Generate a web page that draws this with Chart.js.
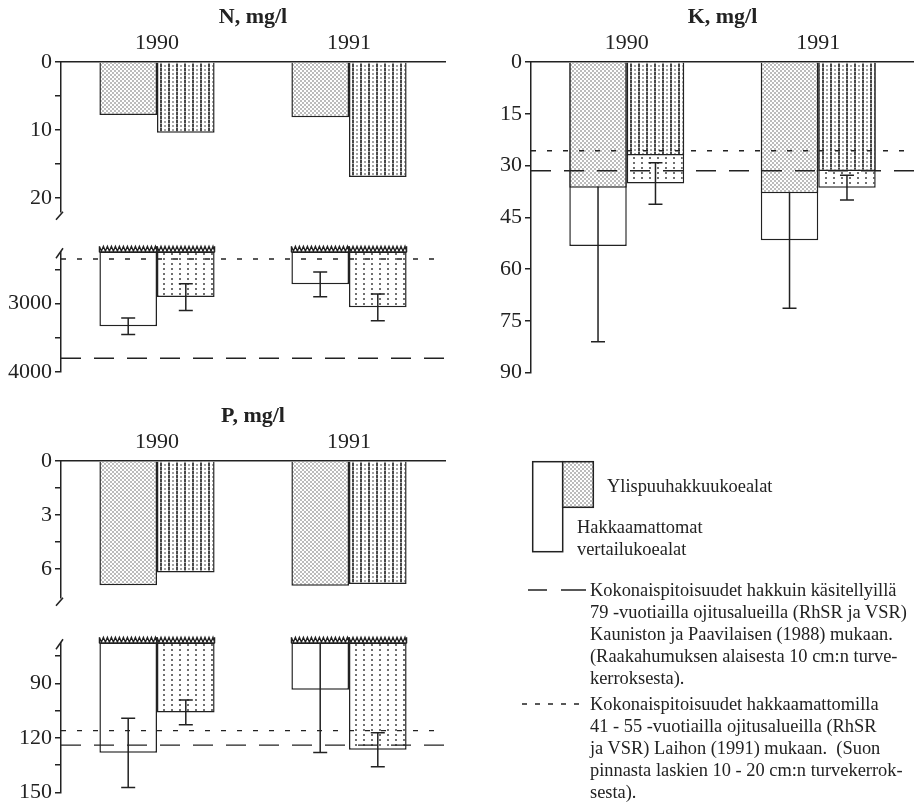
<!DOCTYPE html>
<html>
<head>
<meta charset="utf-8">
<script src="https://cdn.jsdelivr.net/npm/chart.js@4.4.1/dist/chart.umd.min.js"></script>
<style>
  html, body { margin: 0; padding: 0; background: #fff; }
  body { width: 914px; height: 810px; position: relative; overflow: hidden;
         font-family: "Liberation Serif", "Times New Roman", serif; color: #222; }
  canvas { position: absolute; }
  .t { position: absolute; font-size: 18.4px; line-height: 22px; white-space: nowrap; color: #222; }
</style>
</head>
<body>
<canvas id="nTop" width="460" height="228" style="left:0;top:0"></canvas>
<canvas id="nLow" width="460" height="160" style="left:0;top:236px"></canvas>
<canvas id="kAll" width="444" height="390" style="left:470px;top:0"></canvas>
<canvas id="pTop" width="460" height="215" style="left:0;top:399px"></canvas>
<canvas id="pLow" width="460" height="183" style="left:0;top:627px"></canvas>
<canvas id="key" width="394" height="360" style="left:520px;top:450px"></canvas>

<div class="t" style="left:607px;top:475px">Ylispuuhakkuukoealat</div>
<div class="t" style="left:577px;top:516px">Hakkaamattomat<br>vertailukoealat</div>
<div class="t" style="left:590px;top:579px">Kokonaispitoisuudet hakkuin käsitellyillä<br>79 -vuotiailla ojitusalueilla (RhSR ja VSR)<br>Kauniston ja Paavilaisen (1988) mukaan.<br>(Raakahumuksen alaisesta 10 cm:n turve-<br>kerroksesta).</div>
<div class="t" style="left:590px;top:693px">Kokonaispitoisuudet hakkaamattomilla<br>41 - 55 -vuotiailla ojitusalueilla (RhSR<br>ja VSR) Laihon (1991) mukaan.&nbsp; (Suon<br>pinnasta laskien 10 - 20 cm:n turvekerrok-<br>sesta).</div>

<script>
// ---------- data ----------
const years = ['1990', '1991'];

// N, mg/l
const nStipple = [7.8, 8.1];
const nStripe = [10.4, 16.9];
const nOpen = [3333, 2720];
const nOpenSd = [120, 180];
const nDots = [2905, 3055];
const nDotsSd = [195, 195];
const nLongDash = 3800;
const nShortDash = 2350;
const nTopTicks = [0, 5, 10, 15, 20];
const nTopLabels = ['0', '', '10', '', '20'];
const nLowTicks = [2500, 3000, 3500, 4000];
const nLowLabels = ['', '3000', '', '4000'];

// K, mg/l
const kStipple = [36.4, 38.0];
const kStripe = [27.1, 31.6];
const kOpen = [53.3, 51.6];
const kOpenSd = [27.7, 19.7];
const kDots = [35.2, 36.4];
const kDotsSd = [6.0, 3.6];
const kLongDash = 31.5;
const kShortDash = 25.7;
const kTicks = [0, 7.5, 15, 22.5, 30, 37.5, 45, 52.5, 60, 67.5, 75, 82.5, 90];
const kLabels = ['0', '', '15', '', '30', '', '45', '', '60', '', '75', '', '90'];

// P, mg/l
const pStipple = [6.9, 6.93];
const pStripe = [6.2, 6.84];
const pOpen = [128.2, 93.6];
const pOpenSd = [19.0, 34.4];
const pDots = [106, 126.5];
const pDotsSd = [6.8, 9.3];
const pLongDash = 124;
const pShortDash = 116;
const pTopTicks = [0, 1.5, 3, 4.5, 6];
const pTopLabels = ['0', '', '3', '', '6'];
const pLowTicks = [75, 90, 105, 120, 135, 150];
const pLowLabels = ['', '90', '', '120', '', '150'];

// ---------- styling helpers ----------
const INK = '#222';
const SERIF = '"Liberation Serif", "Times New Roman", serif';

function makePattern(kind) {
  const c = document.createElement('canvas');
  const g = c.getContext('2d');
  if (kind === 'stipple') {
    c.width = 4; c.height = 4;
    g.fillStyle = '#fff'; g.fillRect(0, 0, 4, 4);
    g.fillStyle = '#bcbcbc'; g.fillRect(0, 0, 2, 2); g.fillRect(2, 2, 2, 2);
  } else if (kind === 'stripe') {
    c.width = 8; c.height = 4;
    g.fillStyle = '#fff'; g.fillRect(0, 0, 8, 4);
    g.fillStyle = '#484848'; g.fillRect(0, 0, 2, 3);
    g.fillStyle = '#a8a8a8'; g.fillRect(0, 3, 2, 1);
    g.fillStyle = '#a4a4a4'; g.fillRect(4, 1, 2, 2);
  } else {
    c.width = 8; c.height = 5;
    g.fillStyle = '#fff'; g.fillRect(0, 0, 8, 5);
    g.fillStyle = '#707070'; g.fillRect(3, 2, 2, 2);
  }
  return g.createPattern(c, 'repeat');
}
const FILL = {
  stipple: makePattern('stipple'),
  stripe: makePattern('stripe'),
  dots: makePattern('dots'),
  open: '#ffffff'
};

function bar(data, fill, stack, order) {
  return {
    data, stack, order,
    backgroundColor: FILL[fill],
    borderColor: INK, borderWidth: 1.5, borderSkipped: 'start'
  };
}

// decorations: error bars, reference levels, broken-axis marks, cut bar tops
function decor(cfg) {
  return {
    id: 'decor',
    afterDatasetDraw(chart, args) {
      const err = cfg.errors && cfg.errors[args.index];
      if (!err) return;
      const ctx = chart.ctx, ys = chart.scales.y, area = chart.chartArea;
      const vals = chart.data.datasets[args.index].data;
      ctx.save();
      ctx.strokeStyle = INK; ctx.lineWidth = 1.5;
      args.meta.data.forEach((el, i) => {
        const v = vals[i], sd = err[i];
        let y1 = ys.getPixelForValue(v - sd), y2 = ys.getPixelForValue(v + sd);
        const capTop = y1 >= area.top;
        y1 = Math.max(y1, area.top);
        ctx.beginPath();
        ctx.moveTo(el.x, y1); ctx.lineTo(el.x, y2);
        if (capTop) { ctx.moveTo(el.x - 7, y1); ctx.lineTo(el.x + 7, y1); }
        ctx.moveTo(el.x - 7, y2); ctx.lineTo(el.x + 7, y2);
        ctx.stroke();
      });
      ctx.restore();
    },
    afterDatasetsDraw(chart) {
      const ctx = chart.ctx, ys = chart.scales.y, a = chart.chartArea;
      ctx.save();
      ctx.strokeStyle = INK;
      if (cfg.zigzag) {
        chart.data.datasets.forEach((ds, di) => {
          chart.getDatasetMeta(di).data.forEach(el => {
            const x0 = el.x - el.width / 2, x1 = el.x + el.width / 2, top = a.top;
            ctx.lineWidth = 1.8;
            ctx.beginPath();
            ctx.moveTo(x0, top); ctx.lineTo(x1, top);
            ctx.stroke();
            ctx.lineWidth = 1.3;
            ctx.beginPath();
            ctx.moveTo(x0, top - 6);
            let x = x0, down = true;
            while (x < x1) {
              x = Math.min(x + 2, x1);
              ctx.lineTo(x, down ? top - 1 : top - 6);
              down = !down;
            }
            ctx.moveTo(x0, top - 6); ctx.lineTo(x0, top);
            ctx.moveTo(x1, top - 6); ctx.lineTo(x1, top);
            ctx.stroke();
          });
        });
      }
      (cfg.levels || []).forEach(l => {
        const y = ys.getPixelForValue(l.value);
        ctx.lineWidth = 1.4;
        ctx.setLineDash(l.dash);
        ctx.beginPath(); ctx.moveTo(a.left, y); ctx.lineTo(a.right, y); ctx.stroke();
      });
      ctx.setLineDash([]);
      ctx.lineWidth = 1.5;
      if (cfg.brk === 'bottom') {
        ctx.beginPath();
        ctx.moveTo(a.left + 2, a.bottom); ctx.lineTo(a.left - 5, a.bottom + 8);
        ctx.stroke();
      } else if (cfg.brk === 'top') {
        ctx.beginPath();
        ctx.moveTo(a.left - 5, a.top + 6); ctx.lineTo(a.left + 2, a.top - 4);
        ctx.stroke();
      }
      ctx.restore();
    }
  };
}

function options(o) {
  const x = {
    type: 'category', position: 'top', display: o.showX, offset: true,
    grid: { display: false, drawTicks: false },
    border: { display: true, color: INK, width: 1.5 },
    ticks: { font: { family: SERIF, size: 22 }, color: INK, padding: 6, maxRotation: 0 },
    title: { display: !!o.title, text: o.title || '', color: INK,
             font: { family: SERIF, size: 22, weight: 'bold' }, padding: { top: 4, bottom: 0 } }
  };
  if (o.showX) x.afterFit = s => { s.height = 62; };
  return {
    responsive: false, animation: false, events: [],
    layout: { padding: o.padding },
    plugins: { legend: { display: false }, tooltip: { enabled: false }, title: { display: false } },
    datasets: { bar: { categoryPercentage: 0.6, barPercentage: 1.0 } },
    scales: {
      x,
      y: {
        type: 'linear', reverse: true, min: o.min, max: o.max, stacked: false, beginAtZero: false,
        grid: { display: true, drawOnChartArea: false, drawTicks: true, tickLength: 6, color: INK, lineWidth: 1.5 },
        border: { display: true, color: INK, width: 1.5 },
        ticks: { font: { family: SERIF, size: 22 }, color: INK, padding: 3,
                 callback: (v, i) => o.labels[i] },
        afterBuildTicks: s => { s.ticks = o.ticks.map(v => ({ value: v })); },
        afterFit: s => { s.width = 61; }
      }
    }
  };
}

// ---------- N panel ----------
new Chart(document.getElementById('nTop'), {
  type: 'bar',
  data: { labels: years, datasets: [bar(nStipple, 'stipple', 'a', 0), bar(nStripe, 'stripe', 'b', 1)] },
  options: options({ showX: true, title: 'N, mg/l', min: 0, max: 22, ticks: nTopTicks, labels: nTopLabels,
                     padding: { left: 0, right: 15, top: 0, bottom: 14.2 } }),
  plugins: [decor({ brk: 'bottom' })]
});
new Chart(document.getElementById('nLow'), {
  type: 'bar',
  data: { labels: years, datasets: [bar(nOpen, 'open', 'a', 0), bar(nDots, 'dots', 'b', 1)] },
  options: options({ showX: false, min: 2250, max: 4000, ticks: nLowTicks, labels: nLowLabels,
                     padding: { left: 0, right: 15, top: 15, bottom: 24 } }),
  plugins: [decor({ brk: 'top', zigzag: true, errors: { 0: nOpenSd, 1: nDotsSd },
                    levels: [{ value: nShortDash, dash: [5, 11] }, { value: nLongDash, dash: [20, 13] }] })]
});

// ---------- K panel ----------
new Chart(document.getElementById('kAll'), {
  type: 'bar',
  data: { labels: years, datasets: [
    bar(kStipple, 'stipple', 'a', 0), bar(kStripe, 'stripe', 'b', 1),
    bar(kOpen, 'open', 'a', 2), bar(kDots, 'dots', 'b', 3)
  ] },
  options: options({ showX: true, title: 'K, mg/l', min: 0, max: 90, ticks: kTicks, labels: kLabels,
                     padding: { left: 0, right: 0, top: 0, bottom: 17.3 } }),
  plugins: [decor({ errors: { 2: kOpenSd, 3: kDotsSd },
                    levels: [{ value: kShortDash, dash: [5, 11] }, { value: kLongDash, dash: [20, 13] }] })]
});

// ---------- P panel ----------
new Chart(document.getElementById('pTop'), {
  type: 'bar',
  data: { labels: years, datasets: [bar(pStipple, 'stipple', 'a', 0), bar(pStripe, 'stripe', 'b', 1)] },
  options: options({ showX: true, title: 'P, mg/l', min: 0, max: 7.6, ticks: pTopTicks, labels: pTopLabels,
                     padding: { left: 0, right: 15, top: 0, bottom: 14.1 } }),
  plugins: [decor({ brk: 'bottom' })]
});
new Chart(document.getElementById('pLow'), {
  type: 'bar',
  data: { labels: years, datasets: [bar(pOpen, 'open', 'a', 0), bar(pDots, 'dots', 'b', 1)] },
  options: options({ showX: false, min: 68, max: 150, ticks: pLowTicks, labels: pLowLabels,
                     padding: { left: 0, right: 15, top: 15, bottom: 17.5 } }),
  plugins: [decor({ brk: 'top', zigzag: true, errors: { 0: pOpenSd, 1: pDotsSd },
                    levels: [{ value: pShortDash, dash: [5, 11] }, { value: pLongDash, dash: [20, 13] }] })]
});

// ---------- key swatches ----------
(function () {
  const g = document.getElementById('key').getContext('2d');
  g.strokeStyle = INK; g.lineWidth = 1.5;
  g.fillStyle = '#fff';
  g.fillRect(12.7, 11.7, 30, 90); g.strokeRect(12.7, 11.7, 30, 90);
  g.fillStyle = FILL.stipple;
  g.fillRect(42.7, 11.7, 30.6, 45.6); g.strokeRect(42.7, 11.7, 30.6, 45.6);
  g.beginPath();
  g.moveTo(8, 140); g.lineTo(27, 140);
  g.moveTo(41, 140); g.lineTo(66, 140);
  g.stroke();
  g.setLineDash([5, 8]);
  g.beginPath(); g.moveTo(2, 254); g.lineTo(67, 254); g.stroke();
})();
</script>
</body>
</html>
